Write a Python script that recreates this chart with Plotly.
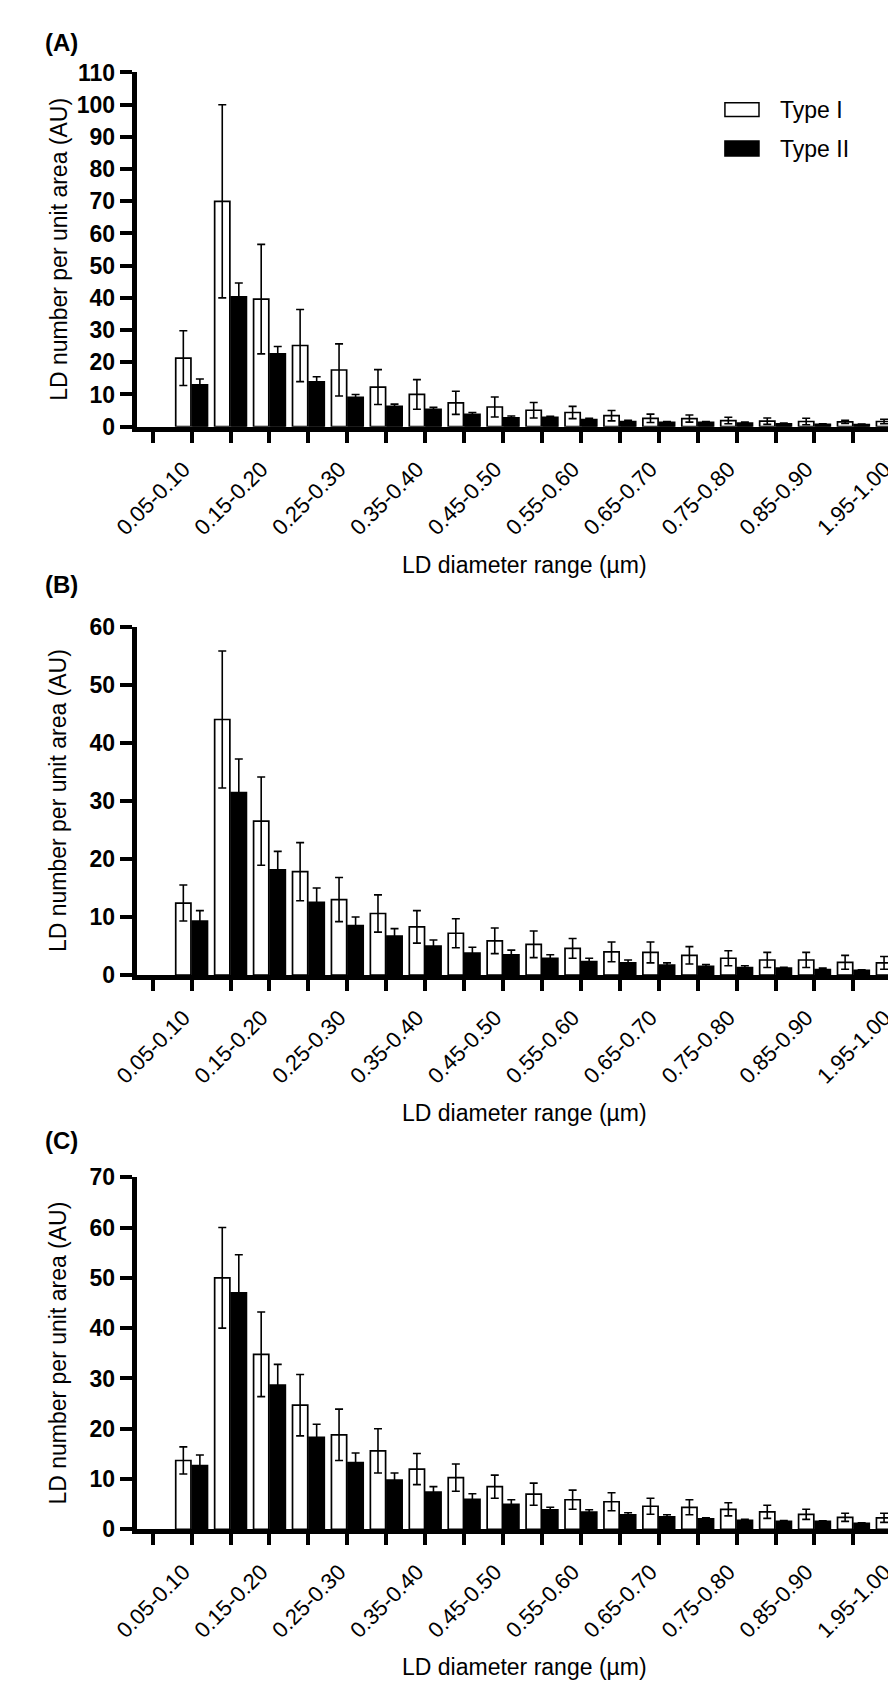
import plotly.graph_objects as go

# ---------------- data ----------------
categories = ["0.05-0.10", "0.10-0.15", "0.15-0.20", "0.20-0.25", "0.25-0.30",
              "0.30-0.35", "0.35-0.40", "0.40-0.45", "0.45-0.50", "0.50-0.55",
              "0.55-0.60", "0.60-0.65", "0.65-0.70", "0.70-0.75", "0.75-0.80",
              "0.80-0.85", "0.85-0.90", "0.90-0.95", "1.95-1.00"]
series_names = ["Type I", "Type II"]

# Panel A
a_type1 = [21.3, 70.0, 39.6, 25.2, 17.6, 12.3, 10.0, 7.4, 6.1, 5.1, 4.4, 3.4, 2.6, 2.5, 1.9, 1.7, 1.6, 1.5, 1.6]
a_type1_err = [8.5, 30.0, 17.0, 11.2, 8.1, 5.4, 4.6, 3.6, 3.1, 2.4, 1.9, 1.6, 1.3, 1.1, 1.0, 1.0, 1.0, 0.5, 0.7]
a_type2 = [13.0, 40.3, 22.6, 13.9, 9.1, 6.3, 5.4, 3.8, 2.7, 2.9, 2.2, 1.6, 1.3, 1.3, 1.1, 0.9, 0.7, 0.6, 0.5]
a_type2_err = [1.8, 4.3, 2.3, 1.6, 0.9, 0.7, 0.6, 0.6, 0.6, 0.3, 0.4, 0.4, 0.3, 0.3, 0.3, 0.2, 0.2, 0.2, 0.2]

# Panel B
b_type1 = [12.4, 44.0, 26.5, 17.8, 13.0, 10.6, 8.3, 7.2, 5.9, 5.3, 4.6, 4.0, 3.9, 3.4, 2.9, 2.6, 2.6, 2.2, 2.1]
b_type1_err = [3.1, 11.8, 7.6, 5.0, 3.8, 3.2, 2.8, 2.5, 2.2, 2.3, 1.7, 1.7, 1.8, 1.5, 1.3, 1.3, 1.3, 1.2, 1.1]
b_type2 = [9.3, 31.4, 18.1, 12.5, 8.5, 6.7, 5.0, 3.8, 3.5, 2.9, 2.3, 2.1, 1.7, 1.5, 1.3, 1.2, 0.95, 0.8, 0.9]
b_type2_err = [1.8, 5.8, 3.2, 2.5, 1.5, 1.3, 1.05, 1.0, 0.8, 0.6, 0.6, 0.5, 0.4, 0.3, 0.3, 0.15, 0.25, 0.1, 0.2]

# Panel C
c_type1 = [13.7, 50.0, 34.8, 24.7, 18.8, 15.6, 12.0, 10.3, 8.5, 7.0, 5.9, 5.5, 4.6, 4.4, 4.0, 3.5, 3.0, 2.4, 2.3]
c_type1_err = [2.7, 10.0, 8.4, 6.1, 5.1, 4.4, 3.1, 2.7, 2.3, 2.2, 1.9, 1.8, 1.6, 1.5, 1.3, 1.3, 1.0, 0.8, 0.9]
c_type2 = [12.7, 47.0, 28.7, 18.3, 13.3, 9.8, 7.4, 6.0, 5.0, 3.9, 3.45, 2.9, 2.5, 2.1, 1.8, 1.6, 1.6, 1.2, 1.5]
c_type2_err = [2.1, 7.6, 4.1, 2.6, 1.9, 1.4, 1.1, 1.1, 0.9, 0.5, 0.45, 0.4, 0.4, 0.2, 0.2, 0.15, 0.1, 0.1, 0.1]

y_ranges = [110, 60, 70]
y_dticks = [10, 10, 10]
panel_letters = ["(A)", "(B)", "(C)"]
y_title = "LD number per unit area (AU)"
x_title = "LD diameter range (\u00b5m)"

# ---------------- layout geometry (pixels) ----------------
W, H = 896, 1689
AXIS_LINE_W = 5
PLOT_LEFT = 105 + AXIS_LINE_W / 2   # plotly draws the axis line just outside the domain
PX_PER_CAT = 40.0
FIRST_TICK_PX = 124  # empty leading tick
panel_px = [(52.3, 412.0), (615.0, 969.0), (1174.3, 1532.0)]  # (top, zero level)
letter_y = [22, 572, 1137]
FONT = "Liberation Sans, Arial, sans-serif"


def ydom(top, bottom):
    return [(H - bottom) / H, (H - top) / H]


x_pos = list(range(1, len(categories) + 1))
tickvals = [0] + x_pos
ticktext = [""] + [c if i % 2 == 0 else "" for i, c in enumerate(categories)]
x_range = [(PLOT_LEFT - FIRST_TICK_PX) / PX_PER_CAT, (W - FIRST_TICK_PX) / PX_PER_CAT]

panels = [
    (a_type1, a_type1_err, a_type2, a_type2_err),
    (b_type1, b_type1_err, b_type2, b_type2_err),
    (c_type1, c_type1_err, c_type2, c_type2_err),
]

fig = go.Figure()
for p, (t1, e1, t2, e2) in enumerate(panels):
    xa = "x" if p == 0 else f"x{p+1}"
    ya = "y" if p == 0 else f"y{p+1}"
    fig.add_trace(go.Bar(
        x=x_pos, y=t1, name=series_names[0], xaxis=xa, yaxis=ya,
        marker=dict(color="white", line=dict(color="black", width=1.7)),
        error_y=dict(type="data", array=e1, color="black", thickness=1.6, width=4),
        showlegend=False, offsetgroup="1"))
    fig.add_trace(go.Bar(
        x=x_pos, y=t2, name=series_names[1], xaxis=xa, yaxis=ya,
        marker=dict(color="black", line=dict(color="black", width=1.7)),
        error_y=dict(type="data", array=e2, color="black", thickness=1.6, width=4),
        showlegend=False, offsetgroup="2"))

layout = dict(
    width=W, height=H,
    margin=dict(l=0, r=0, t=0, b=0),
    paper_bgcolor="white", plot_bgcolor="white",
    barmode="group", bargap=0.15, bargroupgap=0.08,
    font=dict(family=FONT, color="black", size=23),
    showlegend=False,
)

annotations = []
shapes = []
for p in range(3):
    top, bottom = panel_px[p]
    xk = "xaxis" if p == 0 else f"xaxis{p+1}"
    yk = "yaxis" if p == 0 else f"yaxis{p+1}"
    ya = "y" if p == 0 else f"y{p+1}"
    xa = "x" if p == 0 else f"x{p+1}"
    layout[xk] = dict(
        domain=[PLOT_LEFT / W, 1], anchor=ya, range=x_range,
        tickmode="array", tickvals=tickvals, ticktext=ticktext,
        tickangle=-45, ticks="outside", ticklen=11, tickwidth=4, tickcolor="black",
        ticklabelshift=-8, ticklabelstandoff=5,
        showline=True, linewidth=AXIS_LINE_W, linecolor="black",
        showgrid=False, zeroline=False,
        tickfont=dict(family=FONT, size=22, color="black"),
    )
    layout[yk] = dict(
        domain=ydom(top, bottom), anchor=xa, range=[0, y_ranges[p]],
        tickmode="linear", tick0=0, dtick=y_dticks[p],
        ticks="outside", ticklen=12, tickwidth=4, tickcolor="black",
        showline=True, linewidth=AXIS_LINE_W, linecolor="black",
        showgrid=False, zeroline=False,
        tickfont=dict(family=FONT, size=23, color="black", weight="bold"),
    )
    # panel letter
    annotations.append(dict(
        text=f"<b>{panel_letters[p]}</b>", xref="paper", yref="paper",
        x=11 / W, y=(H - letter_y[p]) / H, xanchor="left", yanchor="middle",
        showarrow=False, font=dict(family=FONT, size=24, color="black")))
    # y title
    annotations.append(dict(
        text=y_title, xref="paper", yref="paper", textangle=-90,
        x=27 / W, y=(H - (top + bottom) / 2) / H, xanchor="center", yanchor="middle",
        showarrow=False, font=dict(family=FONT, size=23, color="black")))
    # x title
    annotations.append(dict(
        text=x_title, xref="paper", yref="paper",
        x=506 / W, y=(H - (bottom + 140)) / H, xanchor="center", yanchor="middle",
        showarrow=False, font=dict(family=FONT, size=23, color="black")))

# custom legend (panel A)
legend_items = [(series_names[0], "white", 83, 97, 90), (series_names[1], "black", 122, 137, 130)]
for name, col, y0, y1, yc in legend_items:
    shapes.append(dict(type="rect", xref="paper", yref="paper",
                       x0=712 / W, x1=747 / W, y0=(H - y1) / H, y1=(H - y0) / H,
                       fillcolor=col, line=dict(color="black", width=1.5)))
    annotations.append(dict(text=name, xref="paper", yref="paper",
                            x=767 / W, y=(H - yc) / H, xanchor="left", yanchor="middle",
                            showarrow=False, font=dict(family=FONT, size=23, color="black")))

layout["annotations"] = annotations
layout["shapes"] = shapes
fig.update_layout(**layout)

fig.write_html("out.html")
